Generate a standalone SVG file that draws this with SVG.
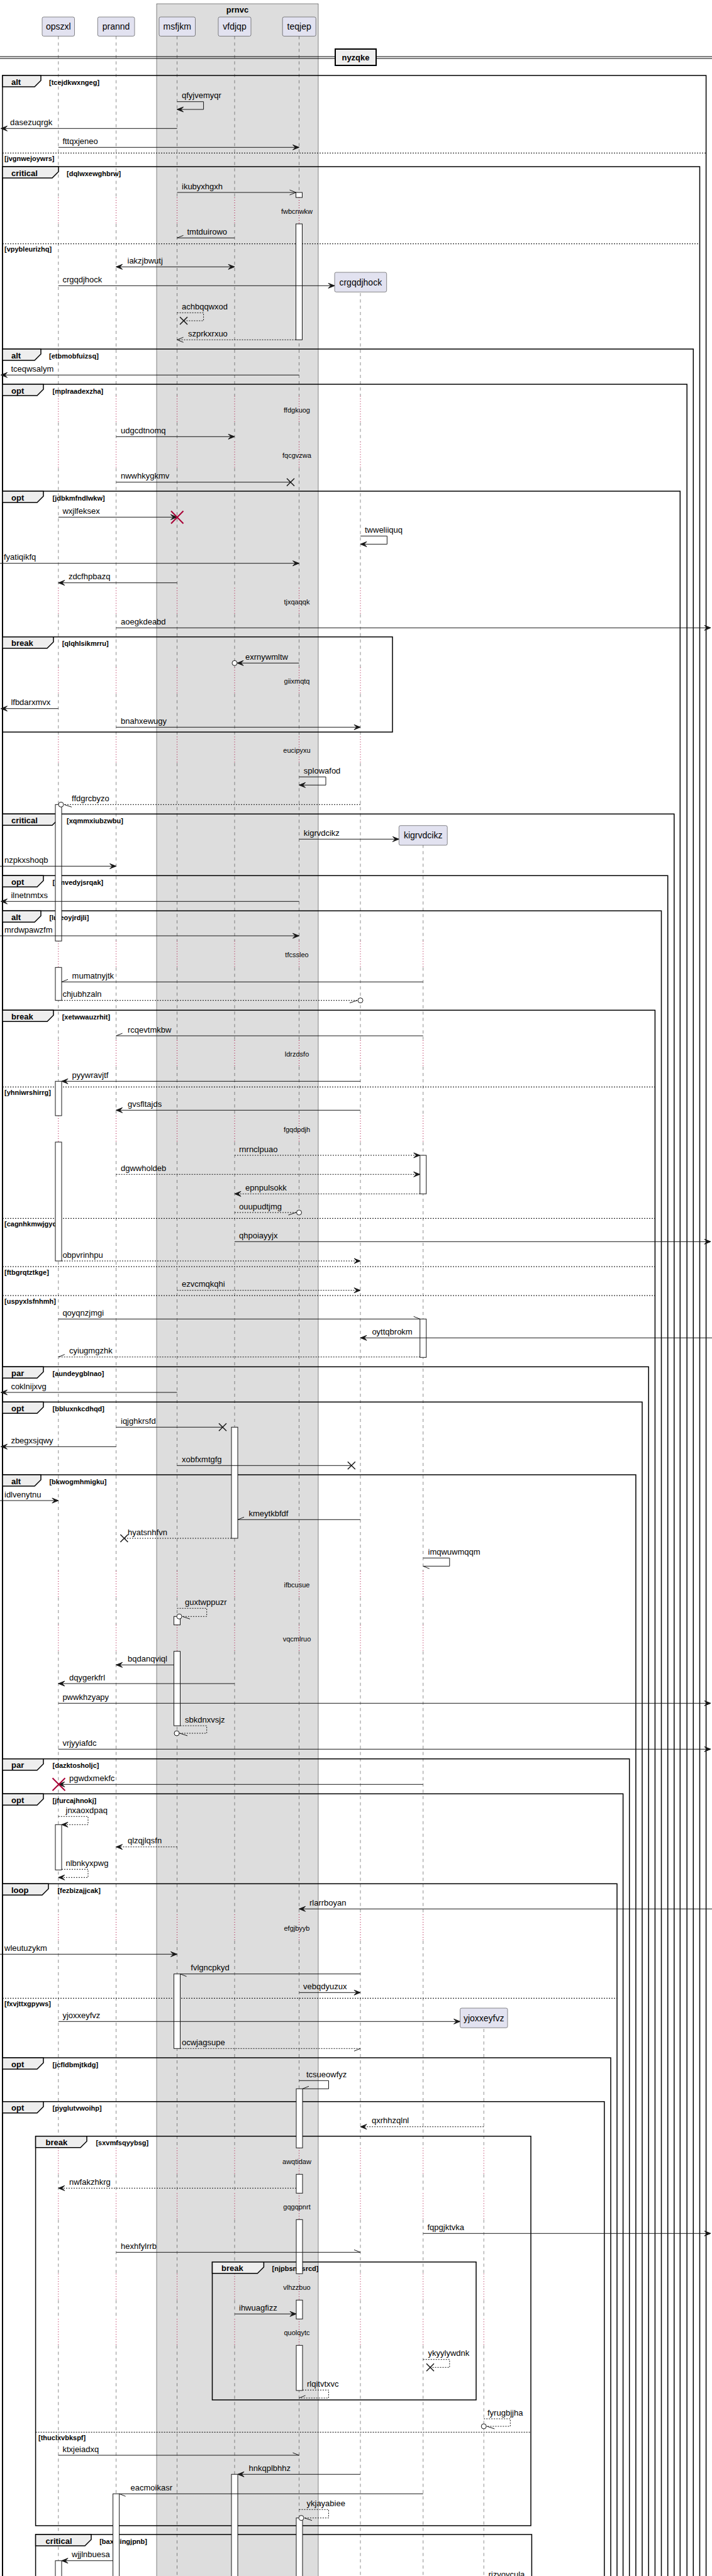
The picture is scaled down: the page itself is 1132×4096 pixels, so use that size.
<svg xmlns="http://www.w3.org/2000/svg" width="1132" height="4096" viewBox="0 0 1132 4096">
<style>
text{font-family:"Liberation Sans",Arial,sans-serif;fill:#000}
.m{font-size:13px}
.d{font-size:11px;text-anchor:middle}
.pl{font-size:14px;text-anchor:middle}
.fl{font-size:13px;font-weight:bold}
.fc{font-size:11px;font-weight:bold}
.ln{stroke:#181818;stroke-width:1;fill:none}
.ds{stroke-dasharray:2,2}
.ll{stroke:#181818;stroke-width:0.5;stroke-dasharray:5,5;fill:none}
.dl{stroke:#A80036;stroke-width:1;stroke-dasharray:1,3;fill:none}
.act{fill:#fff;stroke:#181818;stroke-width:1}
.frm{fill:none;stroke:#000;stroke-width:1.5}
.tab{fill:#EEEEEE;stroke:#000;stroke-width:1.5}
.els{stroke:#000;stroke-width:1;stroke-dasharray:2,2}
.part{fill:#E2E2F0;stroke:#181818;stroke-width:0.5}
.rx{stroke:#A80036;stroke-width:2;fill:none}
</style>
<defs>
<marker id="af" markerUnits="userSpaceOnUse" markerWidth="20" markerHeight="20" refX="0" refY="0" orient="auto" overflow="visible"><path d="M-10,-4 L0,0 L-10,4 L-6,0 Z" fill="#181818" stroke="#181818" stroke-width="1"/></marker>
<marker id="as" markerUnits="userSpaceOnUse" markerWidth="20" markerHeight="20" refX="0" refY="0" orient="auto-start-reverse" overflow="visible"><path d="M-10,-4 L0,0 L-10,4 L-6,0 Z" fill="#181818" stroke="#181818" stroke-width="1"/></marker>
<marker id="ao" markerUnits="userSpaceOnUse" markerWidth="20" markerHeight="20" refX="0" refY="0" orient="auto" overflow="visible"><path d="M-10,-4 L0,0 L-10,4" fill="none" stroke="#181818" stroke-width="1"/></marker>
<marker id="hA" markerUnits="userSpaceOnUse" markerWidth="20" markerHeight="20" refX="0" refY="0" orient="auto" overflow="visible"><path d="M-10,-4 L0,0" fill="none" stroke="#181818" stroke-width="1"/></marker>
<marker id="hB" markerUnits="userSpaceOnUse" markerWidth="20" markerHeight="20" refX="0" refY="0" orient="auto" overflow="visible"><path d="M0,0 L-10,4" fill="none" stroke="#181818" stroke-width="1"/></marker>
<marker id="xx" markerUnits="userSpaceOnUse" markerWidth="20" markerHeight="20" refX="0" refY="0" orient="auto" overflow="visible"><path d="M-6,-6 L6,6 M-6,6 L6,-6" fill="none" stroke="#181818" stroke-width="1.5"/></marker>
<marker id="cF" markerUnits="userSpaceOnUse" markerWidth="20" markerHeight="20" refX="0" refY="0" orient="auto" overflow="visible"><path d="M-4,0 L-14,-4 L-10,0 L-14,4 Z" fill="#181818" stroke="#181818" stroke-width="1"/><circle r="4" fill="#fff" stroke="#181818" stroke-width="1"/></marker>
<marker id="cHa" markerUnits="userSpaceOnUse" markerWidth="20" markerHeight="20" refX="0" refY="0" orient="auto" overflow="visible"><path d="M-5,0 L-17,-4" fill="none" stroke="#181818" stroke-width="1"/><circle r="4" fill="#fff" stroke="#181818" stroke-width="1"/></marker>
<marker id="cHb" markerUnits="userSpaceOnUse" markerWidth="20" markerHeight="20" refX="0" refY="0" orient="auto" overflow="visible"><path d="M-5,0 L-17,4" fill="none" stroke="#181818" stroke-width="1"/><circle r="4" fill="#fff" stroke="#181818" stroke-width="1"/></marker>
<path id="llD" d="M0,57.5V314M0,356V629.7M0,671.7V702.3M0,744.3V934.7M0,976.7V1061.3M0,1103.3V1171.3M0,1213.3V1496.3M0,1538.3V1654M0,1696V1774M0,1816V2498M0,2540V2583.7M0,2625.7V3044M0,3086V3415.3M0,3457.3V3487.3M0,3529.3V3615.3M0,3657.3V3687.3M0,3729.3V4096"/>
<path id="llT" d="M0,314V356M0,629.7V671.7M0,702.3V744.3M0,934.7V976.7M0,1061.3V1103.3M0,1171.3V1213.3M0,1496.3V1538.3M0,1654V1696M0,1774V1816M0,2498V2540M0,2583.7V2625.7M0,3044V3086M0,3415.3V3457.3M0,3487.3V3529.3M0,3615.3V3657.3M0,3687.3V3729.3"/>
<clipPath id="clipC"><rect x="0" y="464.3" width="1132" height="3700"/></clipPath>
<clipPath id="clipK"><rect x="0" y="1344" width="1132" height="2800"/></clipPath>
<clipPath id="clipY"><rect x="0" y="3224.3" width="1132" height="900"/></clipPath>
</defs>
<rect x="0" y="0" width="1132" height="4096" fill="#fff"/>
<g id="box-prnvc">
<rect x="249" y="6" width="257" height="4100" fill="#DDDDDD" stroke="#181818" stroke-width="0.5"/>
<text class="fl" x="377.5" y="20" text-anchor="middle">prnvc</text>
</g>
<g id="lifelines">
<use href="#llD" class="ll" x="92.8"/><use href="#llT" class="dl" x="92.8"/>
<use href="#llD" class="ll" x="184.6"/><use href="#llT" class="dl" x="184.6"/>
<use href="#llD" class="ll" x="281.5"/><use href="#llT" class="dl" x="281.5"/>
<use href="#llD" class="ll" x="373"/><use href="#llT" class="dl" x="373"/>
<use href="#llD" class="ll" x="475.5"/><use href="#llT" class="dl" x="475.5"/>
<g clip-path="url(#clipC)"><use href="#llD" class="ll" x="573"/><use href="#llT" class="dl" x="573"/></g>
<g clip-path="url(#clipK)"><use href="#llD" class="ll" x="672.7"/><use href="#llT" class="dl" x="672.7"/></g>
<g clip-path="url(#clipY)"><use href="#llD" class="ll" x="769.2"/><use href="#llT" class="dl" x="769.2"/></g>
</g>
<g id="divider-nyzqke">
<line x1="0" y1="90" x2="1132" y2="90" stroke="#000" stroke-width="1"/>
<line x1="0" y1="93" x2="1132" y2="93" stroke="#000" stroke-width="1"/>
<rect x="533" y="78" width="65" height="26" fill="#EEEEEE" stroke="#000" stroke-width="2"/>
<text class="fl" x="565.5" y="95.5" text-anchor="middle">nyzqke</text>
</g>
<g id="frames">
<g id="f1"><rect class="frm" x="4" y="120" width="1118.6" height="4000"/><path class="tab" d="M4,120H65V128L55,138H4Z"/><text class="fl" x="18" y="134.5">alt</text><text class="fc" x="78" y="134.5">[tcejdkwxngeg]</text>
<line class="els" x1="4" y1="243.3" x2="1122.6" y2="243.3"/><text class="fc" x="7" y="255.8">[jvgnwejoywrs]</text></g>
<g id="f2"><rect class="frm" x="4" y="265" width="1108.5" height="3900"/><path class="tab" d="M4,265H93V273L83,283H4Z"/><text class="fl" x="18" y="279.5">critical</text><text class="fc" x="106" y="279.5">[dqlwxewghbrw]</text>
<line class="els" x1="4" y1="387.7" x2="1112.5" y2="387.7"/><text class="fc" x="7" y="400.2">[vpybleurizhq]</text></g>
<g id="f3"><rect class="frm" x="4" y="555" width="1098.3" height="3600"/><path class="tab" d="M4,555H65V563L55,573H4Z"/><text class="fl" x="18" y="569.5">alt</text><text class="fc" x="78" y="569.5">[etbmobfuizsq]</text></g>
<g id="f4"><rect class="frm" x="4" y="611" width="1088.2" height="3600"/><path class="tab" d="M4,611H69V619L59,629H4Z"/><text class="fl" x="18" y="625.5">opt</text><text class="fc" x="83.5" y="625.5">[mplraadexzha]</text></g>
<g id="f5"><rect class="frm" x="4" y="781" width="1077.3" height="3400"/><path class="tab" d="M4,781H69V789L59,799H4Z"/><text class="fl" x="18" y="795.5">opt</text><text class="fc" x="83.5" y="795.5">[jdbkmfndlwkw]</text></g>
<g id="f6"><rect class="frm" x="4" y="1012.7" width="620" height="151.3"/><path class="tab" d="M4,1012.7H85V1020.7L75,1030.7H4Z"/><text class="fl" x="18" y="1027.2">break</text><text class="fc" x="98.7" y="1027.2">[qlqhlsikmrru]</text></g>
<g id="f7"><rect class="frm" x="4" y="1294.3" width="1067.8" height="2900"/><path class="tab" d="M4,1294.3H93V1302.3L83,1312.3H4Z"/><text class="fl" x="18" y="1308.8">critical</text><text class="fc" x="106" y="1308.8">[xqmmxiubzwbu]</text></g>
<g id="f8"><rect class="frm" x="4" y="1392.3" width="1057.7" height="2800"/><path class="tab" d="M4,1392.3H69V1400.3L59,1410.3H4Z"/><text class="fl" x="18" y="1406.8">opt</text><text class="fc" x="83.5" y="1406.8">[xmvedyjsrqak]</text></g>
<g id="f9"><rect class="frm" x="4" y="1448.3" width="1047.5" height="2700"/><path class="tab" d="M4,1448.3H65V1456.3L55,1466.3H4Z"/><text class="fl" x="18" y="1462.8">alt</text><text class="fc" x="78.4" y="1462.8">[luteoyjrdjli]</text></g>
<g id="f10"><rect class="frm" x="4" y="1606.3" width="1037.4" height="2600"/><path class="tab" d="M4,1606.3H85V1614.3L75,1624.3H4Z"/><text class="fl" x="18" y="1620.8">break</text><text class="fc" x="98.7" y="1620.8">[xetwwauzrhit]</text>
<line class="els" x1="4" y1="1728.3" x2="1041.4" y2="1728.3"/><text class="fc" x="7" y="1740.8">[yhniwrshirrg]</text>
<line class="els" x1="4" y1="1937.3" x2="1041.4" y2="1937.3"/><text class="fc" x="7" y="1949.8">[cagnhkmwjgyq]</text>
<line class="els" x1="4" y1="2014" x2="1041.4" y2="2014"/><text class="fc" x="7" y="2026.5">[ftbgrqtztkge]</text>
<line class="els" x1="4" y1="2060" x2="1041.4" y2="2060"/><text class="fc" x="7" y="2072.5">[uspyxlsfnhmh]</text></g>
<g id="f11"><rect class="frm" x="4" y="2173.3" width="1027.2" height="2000"/><path class="tab" d="M4,2173.3H69V2181.3L59,2191.3H4Z"/><text class="fl" x="18" y="2187.8">par</text><text class="fc" x="83.5" y="2187.8">[aundeygblnao]</text></g>
<g id="f12"><rect class="frm" x="4" y="2229.3" width="1017" height="2000"/><path class="tab" d="M4,2229.3H69V2237.3L59,2247.3H4Z"/><text class="fl" x="18" y="2243.8">opt</text><text class="fc" x="83.5" y="2243.8">[bbluxnkcdhqd]</text></g>
<g id="f13"><rect class="frm" x="4" y="2345" width="1006.9" height="1800"/><path class="tab" d="M4,2345H65V2353L55,2363H4Z"/><text class="fl" x="18" y="2359.5">alt</text><text class="fc" x="78.4" y="2359.5">[bkwogmhmigku]</text></g>
<g id="f14"><rect class="frm" x="4" y="2796.7" width="996.7" height="1400"/><path class="tab" d="M4,2796.7H69V2804.7L59,2814.7H4Z"/><text class="fl" x="18" y="2811.2">par</text><text class="fc" x="83.5" y="2811.2">[dazktosholjc]</text></g>
<g id="f15"><rect class="frm" x="4" y="2852.3" width="986.6" height="1300"/><path class="tab" d="M4,2852.3H69V2860.3L59,2870.3H4Z"/><text class="fl" x="18" y="2866.8">opt</text><text class="fc" x="83.5" y="2866.8">[jfurcajhnokj]</text></g>
<g id="f16"><rect class="frm" x="4" y="2995.3" width="977" height="1200"/><path class="tab" d="M4,2995.3H77V3003.3L67,3013.3H4Z"/><text class="fl" x="18" y="3009.8">loop</text><text class="fc" x="91.4" y="3009.8">[fezbizajjcak]</text>
<line class="els" x1="4" y1="3177.3" x2="981" y2="3177.3"/><text class="fc" x="7" y="3189.8">[fxvjttxgpyws]</text></g>
<g id="f17"><rect class="frm" x="4" y="3272" width="967" height="900"/><path class="tab" d="M4,3272H69V3280L59,3290H4Z"/><text class="fl" x="18" y="3286.5">opt</text><text class="fc" x="83.5" y="3286.5">[jcfldbmjtkdg]</text></g>
<g id="f18"><rect class="frm" x="4" y="3341.7" width="956.8" height="850"/><path class="tab" d="M4,3341.7H69V3349.7L59,3359.7H4Z"/><text class="fl" x="18" y="3356.2">opt</text><text class="fc" x="83.5" y="3356.2">[pyglutvwoihp]</text></g>
<g id="f19"><rect class="frm" x="56.6" y="3396.7" width="787.4" height="619.3"/><path class="tab" d="M56.6,3396.7H138V3404.7L128,3414.7H56.6Z"/><text class="fl" x="72.6" y="3411.2">break</text><text class="fc" x="152.4" y="3411.2">[sxvmfsqyybsg]</text>
<line class="els" x1="56.6" y1="3867.3" x2="844" y2="3867.3"/><text class="fc" x="61" y="3879.8">[thuclxvbkspf]</text></g>
<g id="f20"><rect class="frm" x="337.5" y="3596.7" width="419.5" height="219.3"/><path class="tab" d="M337.5,3596.7H419.4V3604.7L409.4,3614.7H337.5Z"/><text class="fl" x="352" y="3611.2">break</text><text class="fc" x="432.5" y="3611.2">[njpbsntfsrcd]</text></g>
<g id="f21"><rect class="frm" x="56.6" y="4030" width="788.8" height="200"/><path class="tab" d="M56.6,4030H145V4038L135,4048H56.6Z"/><text class="fl" x="72.6" y="4044.5">critical</text><text class="fc" x="158.2" y="4044.5">[baxhlingjpnb]</text></g>
</g>
<g id="activations">
<rect class="act" x="470.5" y="306" width="10" height="8"/>
<rect class="act" x="470.5" y="356" width="10" height="184.3"/>
<rect class="act" x="88" y="1279.3" width="10" height="217"/>
<rect class="act" x="88" y="1538.3" width="10" height="52.4"/>
<rect class="act" x="88" y="1719.3" width="10" height="54.7"/>
<rect class="act" x="88" y="1816" width="10" height="189"/>
<rect class="act" x="88" y="2901.3" width="10" height="72"/>
<rect class="act" x="88" y="4071.7" width="10" height="40"/>
<rect class="act" x="667.7" y="1837" width="10" height="61.3"/>
<rect class="act" x="667.7" y="2097.3" width="10" height="61"/>
<rect class="act" x="368" y="2269.3" width="10" height="176.7"/>
<rect class="act" x="368" y="3934.3" width="10" height="180"/>
<rect class="act" x="276.5" y="2570.3" width="10" height="13.4"/>
<rect class="act" x="276.5" y="2625.7" width="10" height="118.3"/>
<rect class="act" x="276.5" y="3138.7" width="10" height="118.6"/>
<rect class="act" x="471" y="3321.3" width="10" height="94"/>
<rect class="act" x="471" y="3457.3" width="10" height="30"/>
<rect class="act" x="471" y="3529.3" width="10" height="86"/>
<rect class="act" x="471" y="3657.3" width="10" height="30"/>
<rect class="act" x="471" y="3729.3" width="10" height="71.7"/>
<rect class="act" x="471" y="4003.7" width="10" height="110"/>
<rect class="act" x="179.6" y="3965.3" width="10" height="150"/>
</g>
<g id="delays">
<text class="d" x="472" y="340">fwbcnwkw</text>
<text class="d" x="472" y="655.7">ffdgkuog</text>
<text class="d" x="472" y="728.3">fqcgvzwa</text>
<text class="d" x="472" y="960.7">tjxqaqqk</text>
<text class="d" x="472" y="1087.3">giixmqtq</text>
<text class="d" x="472" y="1197.3">eucipyxu</text>
<text class="d" x="472" y="1522.3">tfcssleo</text>
<text class="d" x="472" y="1680">ldrzdsfo</text>
<text class="d" x="472" y="1800">fgqdpdjh</text>
<text class="d" x="472" y="2524">ifbcusue</text>
<text class="d" x="472" y="2609.7">vqcmlruo</text>
<text class="d" x="472" y="3070">efgjbyyb</text>
<text class="d" x="472" y="3441.3">awqtidaw</text>
<text class="d" x="472" y="3513.3">gqgqpnrt</text>
<text class="d" x="472" y="3641.3">vlhzzbuo</text>
<text class="d" x="472" y="3713.3">quolqytc</text>
</g>
<g id="connectors">
<polyline class="ln" points="281.5,161.7 323.6,161.7 323.6,174 281.5,174" marker-end="url(#af)"/><text class="m" x="289" y="156.2">qfyjvemyqr</text>
<line class="ln" x1="281.5" y1="204.3" x2="1.5" y2="204.3" marker-end="url(#af)"/><text class="m" x="16" y="198.8">dasezuqrgk</text>
<line class="ln" x1="92.8" y1="234.3" x2="475.5" y2="234.3" marker-end="url(#af)"/><text class="m" x="99.4" y="228.8">fttqxjeneo</text>
<line class="ln" x1="281.5" y1="306" x2="470.5" y2="306" marker-end="url(#ao)"/><text class="m" x="289" y="300.5">ikubyxhgxh</text>
<line class="ln" x1="373" y1="378.3" x2="281.5" y2="378.3" marker-end="url(#hB)"/><text class="m" x="297.5" y="372.8">tmtduirowo</text>
<line class="ln" x1="184.6" y1="424.3" x2="373" y2="424.3" marker-start="url(#as)" marker-end="url(#af)"/><text class="m" x="202.5" y="418.8">iakzjbwutj</text>
<line class="ln" x1="92.8" y1="454.3" x2="532" y2="454.3" marker-end="url(#af)"/><text class="m" x="99.4" y="448.8">crgqdjhock</text>
<polyline class="ln ds" points="281.5,497.3 323.6,497.3 323.6,510 292,510" marker-end="url(#xx)"/><text class="m" x="289" y="491.8">achbqqwxod</text>
<line class="ln ds" x1="470.5" y1="540.3" x2="281.5" y2="540.3" marker-end="url(#ao)"/><text class="m" x="299" y="534.8">szprkxrxuo</text>
<line class="ln" x1="475.5" y1="596.3" x2="1.5" y2="596.3" marker-end="url(#af)"/><text class="m" x="17.4" y="590.8">tceqwsalym</text>
<line class="ln" x1="184.6" y1="694.3" x2="373" y2="694.3" marker-end="url(#af)"/><text class="m" x="192" y="688.8">udgcdtnomq</text>
<line class="ln" x1="184.6" y1="766.7" x2="462" y2="766.7" marker-end="url(#xx)"/><text class="m" x="192" y="761.2">nwwhkygkmv</text>
<line class="ln" x1="92.8" y1="822.3" x2="281.5" y2="822.3" marker-end="url(#af)"/><path class="rx" d="M272,812.5 L291.5,832.5 M272,832.5 L291.5,812.5"/><text class="m" x="99.4" y="816.8">wxjlfeksex</text>
<polyline class="ln" points="573,852.3 615.4,852.3 615.4,865.3 573,865.3" marker-end="url(#af)"/><text class="m" x="580" y="846.8">twweliiquq</text>
<line class="ln" x1="0" y1="895.7" x2="475.5" y2="895.7" marker-end="url(#af)"/><text class="m" x="6" y="890.2">fyatiqikfq</text>
<line class="ln" x1="281.5" y1="926.7" x2="92.8" y2="926.7" marker-end="url(#af)"/><text class="m" x="108.9" y="921.2">zdcfhpbazq</text>
<line class="ln" x1="184.6" y1="998.3" x2="1130" y2="998.3" marker-end="url(#af)"/><text class="m" x="192" y="992.8">aoegkdeabd</text>
<line class="ln" x1="475.5" y1="1054.3" x2="373" y2="1054.3" marker-end="url(#cF)"/><text class="m" x="390" y="1048.8">exrnywmltw</text>
<line class="ln" x1="92.8" y1="1126.7" x2="1.5" y2="1126.7" marker-end="url(#af)"/><text class="m" x="17.4" y="1121.2">lfbdarxmvx</text>
<line class="ln" x1="184.6" y1="1156.3" x2="573" y2="1156.3" marker-end="url(#af)"/><text class="m" x="192" y="1150.8">bnahxewugy</text>
<polyline class="ln" points="475.5,1235.3 518,1235.3 518,1248.3 475.5,1248.3" marker-end="url(#af)"/><text class="m" x="482.8" y="1229.8">splowafod</text>
<line class="ln ds" x1="573" y1="1279.3" x2="97" y2="1279.3" marker-end="url(#cHa)"/><text class="m" x="114" y="1273.8">ffdgrcbyzo</text>
<line class="ln" x1="475.5" y1="1334.3" x2="634.3" y2="1334.3" marker-end="url(#af)"/><text class="m" x="482.8" y="1328.8">kigrvdcikz</text>
<line class="ln" x1="0" y1="1377.3" x2="184.6" y2="1377.3" marker-end="url(#af)"/><text class="m" x="7" y="1371.8">nzpkxshoqb</text>
<line class="ln" x1="475.5" y1="1433.3" x2="1.5" y2="1433.3" marker-end="url(#af)"/><text class="m" x="17.4" y="1427.8">ilnetnmtxs</text>
<line class="ln" x1="0" y1="1488" x2="475.5" y2="1488" marker-end="url(#af)"/><text class="m" x="7" y="1482.5">mrdwpawzfm</text>
<line class="ln" x1="672.7" y1="1561.3" x2="98" y2="1561.3" marker-end="url(#hB)"/><text class="m" x="114.6" y="1555.8">mumatnyjtk</text>
<line class="ln ds" x1="98" y1="1590.7" x2="573" y2="1590.7" marker-end="url(#cHb)"/><text class="m" x="99.4" y="1585.2">chjubhzaln</text>
<line class="ln" x1="672.7" y1="1647" x2="184.6" y2="1647" marker-end="url(#hB)"/><text class="m" x="203" y="1641.5">rcqevtmkbw</text>
<line class="ln" x1="573" y1="1719.3" x2="98" y2="1719.3" marker-end="url(#af)"/><text class="m" x="114.6" y="1713.8">pyywravjtf</text>
<line class="ln" x1="573" y1="1765.3" x2="184.6" y2="1765.3" marker-end="url(#af)"/><text class="m" x="203" y="1759.8">gvsfltajds</text>
<line class="ln ds" x1="373" y1="1837" x2="667.7" y2="1837" marker-end="url(#af)"/><text class="m" x="380" y="1831.5">rnrnclpuao</text>
<line class="ln ds" x1="184.6" y1="1867.3" x2="667.7" y2="1867.3" marker-end="url(#af)"/><text class="m" x="192" y="1861.8">dgwwholdeb</text>
<line class="ln ds" x1="667.7" y1="1898.3" x2="373" y2="1898.3" marker-end="url(#af)"/><text class="m" x="390" y="1892.8">epnpulsokk</text>
<line class="ln ds" x1="373" y1="1928" x2="475.5" y2="1928" marker-end="url(#cHb)"/><text class="m" x="380" y="1922.5">ouupudtjmg</text>
<line class="ln" x1="373" y1="1974.3" x2="1130" y2="1974.3" marker-end="url(#af)"/><text class="m" x="380" y="1968.8">qhpoiayyjx</text>
<line class="ln ds" x1="98" y1="2005" x2="573" y2="2005" marker-end="url(#af)"/><text class="m" x="99.4" y="1999.5">obpvrinhpu</text>
<line class="ln ds" x1="281.5" y1="2051.7" x2="573" y2="2051.7" marker-end="url(#af)"/><text class="m" x="289" y="2046.2">ezvcmqkqhi</text>
<line class="ln" x1="92.8" y1="2097.3" x2="667.7" y2="2097.3" marker-end="url(#hA)"/><text class="m" x="99.4" y="2091.8">qoyqnzjmgi</text>
<line class="ln" x1="1132" y1="2127.3" x2="573" y2="2127.3" marker-end="url(#af)"/><text class="m" x="591.4" y="2121.8">oyttqbrokm</text>
<line class="ln ds" x1="667.7" y1="2157.7" x2="92.8" y2="2157.7" marker-end="url(#hB)"/><text class="m" x="110" y="2152.2">cyiugmgzhk</text>
<line class="ln" x1="281.5" y1="2214" x2="1.5" y2="2214" marker-end="url(#af)"/><text class="m" x="17.4" y="2208.5">coklnijxvg</text>
<line class="ln" x1="184.6" y1="2269.3" x2="354" y2="2269.3" marker-end="url(#xx)"/><text class="m" x="192" y="2263.8">iqjghkrsfd</text>
<line class="ln" x1="184.6" y1="2300.3" x2="1.5" y2="2300.3" marker-end="url(#af)"/><text class="m" x="17.4" y="2294.8">zbegxsjqwy</text>
<line class="ln" x1="281.5" y1="2330.3" x2="558.8" y2="2330.3" marker-end="url(#xx)"/><text class="m" x="289" y="2324.8">xobfxmtgfg</text>
<line class="ln" x1="0" y1="2386" x2="92.8" y2="2386" marker-end="url(#af)"/><text class="m" x="7" y="2380.5">idlvenytnu</text>
<line class="ln" x1="573" y1="2416.3" x2="378" y2="2416.3" marker-end="url(#hB)"/><text class="m" x="395.5" y="2410.8">kmeytkbfdf</text>
<line class="ln ds" x1="368" y1="2446" x2="197.4" y2="2446" marker-end="url(#xx)"/><text class="m" x="203" y="2440.5">hyatsnhfvn</text>
<polyline class="ln" points="672.7,2477.3 714.8,2477.3 714.8,2490.3 672.7,2490.3" marker-end="url(#hA)"/><text class="m" x="680.5" y="2471.8">imqwuwmqqm</text>
<polyline class="ln ds" points="281.5,2557.3 328.7,2557.3 328.7,2570.3 285,2570.3" marker-end="url(#cHa)"/><text class="m" x="294" y="2551.8">guxtwppuzr</text>
<line class="ln" x1="276.5" y1="2647.3" x2="184.6" y2="2647.3" marker-end="url(#af)"/><text class="m" x="203" y="2641.8">bqdanqviql</text>
<line class="ln" x1="373" y1="2677" x2="92.8" y2="2677" marker-end="url(#af)"/><text class="m" x="110" y="2671.5">dqygerkfrl</text>
<line class="ln" x1="92.8" y1="2708.3" x2="1130" y2="2708.3" marker-end="url(#af)"/><text class="m" x="99.4" y="2702.8">pwwkhzyapy</text>
<polyline class="ln ds" points="286.5,2744 328.7,2744 328.7,2756 281,2756" marker-end="url(#cHa)"/><text class="m" x="294" y="2738.5">sbkdnxvsjz</text>
<line class="ln" x1="92.8" y1="2781.3" x2="1130" y2="2781.3" marker-end="url(#af)"/><text class="m" x="99.4" y="2775.8">vrjyyiafdc</text>
<line class="ln" x1="672.7" y1="2837.3" x2="92.8" y2="2837.3" marker-end="url(#af)"/><path class="rx" d="M83.5,2827.3 L103.5,2847.3 M83.5,2847.3 L103.5,2827.3"/><text class="m" x="110" y="2831.8">pgwdxmekfc</text>
<polyline class="ln ds" points="92.8,2888.3 140,2888.3 140,2901.3 98,2901.3" marker-end="url(#af)"/><text class="m" x="104.5" y="2882.8">jnxaoxdpaq</text>
<line class="ln ds" x1="281.5" y1="2936.7" x2="184.6" y2="2936.7" marker-end="url(#af)"/><text class="m" x="203" y="2931.2">qlzqjlqsfn</text>
<polyline class="ln ds" points="98,2972.3 140,2972.3 140,2985.3 92.8,2985.3" marker-end="url(#af)"/><text class="m" x="104.5" y="2966.8">nlbnkyxpwg</text>
<line class="ln" x1="1132" y1="3035.3" x2="475.5" y2="3035.3" marker-end="url(#af)"/><text class="m" x="492" y="3029.8">rlarrboyan</text>
<line class="ln" x1="0" y1="3107.3" x2="281.5" y2="3107.3" marker-end="url(#af)"/><text class="m" x="7" y="3101.8">wleutuzykm</text>
<line class="ln" x1="573" y1="3138.7" x2="286.5" y2="3138.7" marker-end="url(#hA)"/><text class="m" x="303.3" y="3133.2">fvlgncpkyd</text>
<line class="ln" x1="475.5" y1="3168.3" x2="573" y2="3168.3" marker-end="url(#af)"/><text class="m" x="482" y="3162.8">vebqdyuzux</text>
<line class="ln" x1="92.8" y1="3214.3" x2="731.5" y2="3214.3" marker-end="url(#af)"/><text class="m" x="99.4" y="3208.8">yjoxxeyfvz</text>
<line class="ln ds" x1="286.5" y1="3257.3" x2="573" y2="3257.3" marker-end="url(#hB)"/><text class="m" x="289" y="3251.8">ocwjagsupe</text>
<polyline class="ln" points="475.5,3308.3 522.5,3308.3 522.5,3321.3 481,3321.3" marker-end="url(#hB)"/><text class="m" x="487" y="3302.8">tcsueowfyz</text>
<line class="ln ds" x1="769.2" y1="3381.7" x2="573" y2="3381.7" marker-end="url(#af)"/><text class="m" x="591" y="3376.2">qxrhhzqlnl</text>
<line class="ln ds" x1="471" y1="3479.3" x2="92.8" y2="3479.3" marker-end="url(#af)"/><text class="m" x="110" y="3473.8">nwfakzhkrg</text>
<line class="ln" x1="672.7" y1="3551.3" x2="1130" y2="3551.3" marker-end="url(#af)"/><text class="m" x="679.5" y="3545.8">fqpgjktvka</text>
<line class="ln" x1="184.6" y1="3581.3" x2="573" y2="3581.3" marker-end="url(#hA)"/><text class="m" x="192" y="3575.8">hexhfylrrb</text>
<line class="ln" x1="373" y1="3679.3" x2="471" y2="3679.3" marker-end="url(#af)"/><text class="m" x="380" y="3673.8">ihwuagfizz</text>
<polyline class="ln ds" points="672.7,3751.7 714.8,3751.7 714.8,3764.3 684,3764.3" marker-end="url(#xx)"/><text class="m" x="680.5" y="3746.2">ykyylywdnk</text>
<polyline class="ln ds" points="481,3800.3 522.5,3800.3 522.5,3813 475.5,3813" marker-end="url(#hB)"/><text class="m" x="488" y="3794.8">rlqitvtxvc</text>
<polyline class="ln ds" points="769.2,3846 811.3,3846 811.3,3858 769.2,3858" marker-end="url(#cHa)"/><text class="m" x="775" y="3840.5">fyrugbjjha</text>
<line class="ln" x1="92.8" y1="3904" x2="475.5" y2="3904" marker-end="url(#hA)"/><text class="m" x="99.4" y="3898.5">ktxjeiadxq</text>
<line class="ln" x1="573" y1="3934.3" x2="378" y2="3934.3" marker-end="url(#af)"/><text class="m" x="395.5" y="3928.8">hnkqplbhhz</text>
<line class="ln" x1="672.7" y1="3965.3" x2="189.6" y2="3965.3" marker-end="url(#hA)"/><text class="m" x="207.5" y="3959.8">eacmoikasr</text>
<polyline class="ln ds" points="475.5,3990.3 522.5,3990.3 522.5,4003.7 479,4003.7" marker-end="url(#cHa)"/><text class="m" x="487.5" y="3984.8">ykjayabiee</text>
<line class="ln" x1="179.6" y1="4071.7" x2="98" y2="4071.7" marker-end="url(#af)"/><text class="m" x="114" y="4066.2">wjjlnbuesa</text>
<text class="m" x="776.5" y="4098">rjzyoycula</text>
</g>
<g id="participants">
<g id="p-opszxl"><rect class="part" x="67" y="27" width="51.5" height="30.5" rx="2.5"/><text class="pl" x="92.8" y="47">opszxl</text></g>
<g id="p-prannd"><rect class="part" x="155.3" y="27" width="58.7" height="30.5" rx="2.5"/><text class="pl" x="184.6" y="47">prannd</text></g>
<g id="p-msfjkm"><rect class="part" x="253" y="27" width="57.5" height="30.5" rx="2.5"/><text class="pl" x="281.7" y="47">msfjkm</text></g>
<g id="p-vfdjqp"><rect class="part" x="347" y="27" width="52" height="30.5" rx="2.5"/><text class="pl" x="373" y="47">vfdjqp</text></g>
<g id="p-teqjep"><rect class="part" x="449.2" y="27" width="53" height="30.5" rx="2.5"/><text class="pl" x="475.7" y="47">teqjep</text></g>
<g id="p-crgqdjhock"><rect class="part" x="532" y="433" width="82.7" height="31.3" rx="2.5"/><text class="pl" x="573.3" y="453.5">crgqdjhock</text></g>
<g id="p-kigrvdcikz"><rect class="part" x="634.3" y="1312.7" width="76.9" height="31.3" rx="2.5"/><text class="pl" x="672.7" y="1333.2">kigrvdcikz</text></g>
<g id="p-yjoxxeyfvz"><rect class="part" x="731.5" y="3193" width="75.5" height="31.3" rx="2.5"/><text class="pl" x="769.2" y="3213.5">yjoxxeyfvz</text></g>
</g>
</svg>
